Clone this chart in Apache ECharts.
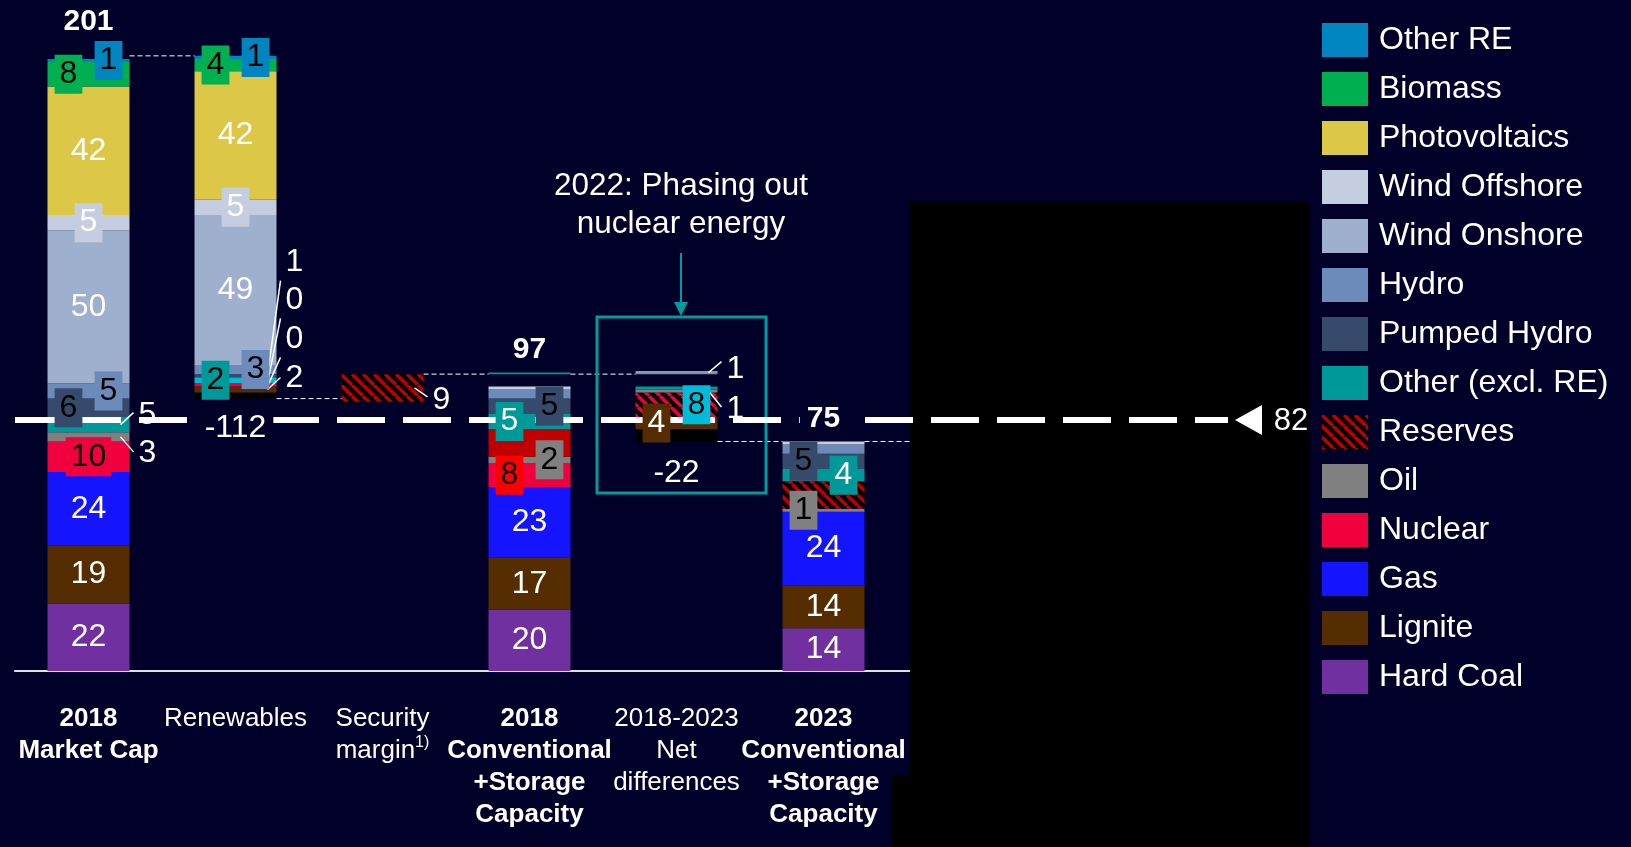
<!DOCTYPE html>
<html>
<head>
<meta charset="utf-8">
<script src="https://cdn.jsdelivr.net/npm/echarts@6/dist/echarts.min.js"></script>
<style>
  html, body { margin: 0; padding: 0; background: #000028; }
  #chart { width: 1631px; height: 847px; }
</style>
</head>
<body>
<div id="chart"></div>
<script>
// ---------- data (GW) ----------
const categories = [
  '2018\nMarket Cap',
  'Renewables',
  'Security\nmargin',
  '2018\nConventional\n+Storage\nCapacity',
  '2018-2023\nNet\ndifferences',
  '2023\nConventional\n+Storage\nCapacity',
  ''
];
const boldCategory = [true, false, false, true, false, true, false];
const footnotes = { 2: '1)' };

// headline figure of every column
const totals = [201, -112, 9, 97, -22, 75, 0];
const requiredCapacity = 82;

// stack parts, bottom to top
const retired     = [0, 2, 0, 0, 4, 0, 0];
const hardCoal    = [22, 0, 0, 20, 0, 14, 0];
const lignite     = [19, 2, 0, 17, 4, 14, 0];
const gas         = [24, 0, 0, 23, 0, 24, 0];
const nuclear     = [10, 1, 0, 8, 8, 0, 0];
const oil         = [3, 0, 0, 2, 1, 1, 0];
const reserves    = [0, 0, 9, 9, 0, 9, 0];
const otherConv   = [5, 2, 0, 5, 1, 4, 0];
const pumpedHydro = [6, 1, 0, 5, 0, 5, 0];
const hydro       = [5, 3, 0, 3, 0, 3, 0];
const windOn      = [50, 49, 0, 0, 0, 0, 0];
const windOff     = [5, 5, 0, 1, 0, 1, 0];
const pv          = [42, 42, 0, 0, 0, 0, 0];
const biomass     = [8, 4, 0, 0, 0, 0, 0];
const otherRE     = [1, 1, 0, 0, 0, 0, 0];
const gapAbove    = [0, 0, 0, 4, 4, 0, 0];
const topLine     = [0, 0, 0, 0.5, 1, 0, 0];

// floating columns start where the previous step ends
const floatBase = [0, totals[0] + totals[1], totals[3] - totals[2], 0, totals[3] + totals[4], 0, 0];

// ---------- styling ----------
const FONT = '"Liberation Sans", Arial, Helvetica, sans-serif';
const BG = '#000028';
const WHITE = '#FFFFFF';
const INK = '#000000';
const BAR_W = 82;
const VALUE_FS = 32;

function hatch(stripe) {
  const s = 11;
  const cv = document.createElement('canvas');
  cv.width = s; cv.height = s;
  const g = cv.getContext('2d');
  g.fillStyle = '#000000';
  g.fillRect(0, 0, s, s);
  g.strokeStyle = stripe;
  g.lineWidth = 3.4;
  for (const k of [-1, 0, 1]) {
    g.beginPath();
    g.moveTo(k * s, 0);
    g.lineTo(k * s + s, s);
    g.stroke();
  }
  return { image: cv, repeat: 'repeat' };
}

const stackDefs = [
  { key: 'base',        name: 'base',              data: floatBase,   color: 'transparent' },
  { key: 'retired',     name: 'retired',           data: retired,     color: '#000000' },
  { key: 'hardCoal',    name: 'Hard Coal',         data: hardCoal,    color: '#7030A0' },
  { key: 'lignite',     name: 'Lignite',           data: lignite,     color: '#552D00' },
  { key: 'gas',         name: 'Gas',               data: gas,         color: '#1414FF' },
  { key: 'nuclear',     name: 'Nuclear',           data: nuclear,     color: '#F0003C' },
  { key: 'oil',         name: 'Oil',               data: oil,         color: '#808080' },
  { key: 'reserves',    name: 'Reserves',          data: reserves,    color: hatch('#C00000') },
  { key: 'otherConv',   name: 'Other (excl. RE)',  data: otherConv,   color: '#009999' },
  { key: 'pumpedHydro', name: 'Pumped Hydro',      data: pumpedHydro, color: '#364B6B' },
  { key: 'hydro',       name: 'Hydro',             data: hydro,       color: '#6D8BBA' },
  { key: 'windOn',      name: 'Wind Onshore',      data: windOn,      color: '#9EB0CE' },
  { key: 'windOff',     name: 'Wind Offshore',     data: windOff,     color: '#C5CEE0' },
  { key: 'pv',          name: 'Photovoltaics',     data: pv,          color: '#DCC846' },
  { key: 'biomass',     name: 'Biomass',           data: biomass,     color: '#00B050' },
  { key: 'otherRE',     name: 'Other RE',          data: otherRE,     color: '#0085C0' },
  { key: 'gapAbove',    name: 'gapAbove',          data: gapAbove,    color: 'transparent' },
  { key: 'topLine',     name: 'topLine',           data: topLine,     color: '#009999' }
];

// single cells with their own fill
const cellStyle = {
  'otherConv,1': { color: '#00BCD8' },
  'reserves,3': { color: '#C00000' },
  'nuclear,4': { color: hatch('#F0003C') },
  'topLine,4': {
    color: { type: 'linear', x: 0, y: 0, x2: 0, y2: 1, colorStops: [
      { offset: 0, color: '#7E98C2' }, { offset: 0.5, color: '#7E98C2' },
      { offset: 0.5, color: '#8C8C8C' }, { offset: 1, color: '#8C8C8C' }] }
  }
};

const legendOrder = ['Other RE', 'Biomass', 'Photovoltaics', 'Wind Offshore', 'Wind Onshore', 'Hydro',
  'Pumped Hydro', 'Other (excl. RE)', 'Reserves', 'Oil', 'Nuclear', 'Gas', 'Lignite', 'Hard Coal'];

const series = stackDefs.map(d => ({
  type: 'bar',
  name: d.name,
  stack: 'capacity',
  barWidth: BAR_W,
  silent: true,
  animation: false,
  itemStyle: { color: d.color },
  emphasis: { disabled: true },
  data: d.data.map((v, i) => {
    const st = cellStyle[d.key + ',' + i];
    return st ? { value: v, itemStyle: st } : v;
  })
}));

const chart = echarts.init(document.getElementById('chart'));
chart.setOption({
  backgroundColor: BG,
  animation: false,
  grid: { left: 15, right: 587, top: 13, bottom: 176 },
  legend: {
    data: legendOrder,
    orient: 'vertical',
    left: 1322,
    top: 23,
    padding: 0,
    itemWidth: 46,
    itemHeight: 34,
    itemGap: 15,
    icon: 'rect',
    selectedMode: false,
    itemStyle: { borderWidth: 0 },
    textStyle: { color: WHITE, fontSize: 32, fontFamily: FONT, padding: [5, 0, 0, 6] }
  },
  xAxis: {
    type: 'category',
    data: categories,
    axisTick: { show: false },
    axisLine: { lineStyle: { color: '#E0E0E0', width: 2 } },
    axisLabel: {
      interval: 0,
      margin: 32,
      color: WHITE,
      formatter: (v, i) => {
        const st = boldCategory[i] ? 'b' : 'n';
        const parts = v.split('\n').map(l => '{' + st + '|' + l + '}');
        if (footnotes[i]) parts[parts.length - 1] += '{sup|' + footnotes[i] + '}';
        return parts.join('\n');
      },
      rich: {
        b: { fontSize: 26, fontWeight: 'bold', lineHeight: 32, color: WHITE, fontFamily: FONT },
        n: { fontSize: 26, lineHeight: 32, color: WHITE, fontFamily: FONT },
        sup: { fontSize: 16, lineHeight: 32, color: WHITE, verticalAlign: 'top', fontFamily: FONT }
      }
    }
  },
  yAxis: { type: 'value', min: 0, max: 215, show: false, splitLine: { show: false } },
  series: series
});

// ---------- value labels ----------
// b: boxed label (L / C / R inside the column), out: label right of the column (vertical shift), q: leader end shift
const labelPlan = [
  // 2018 Market Cap
  { s: 'hardCoal', c: 0 }, { s: 'lignite', c: 0 }, { s: 'gas', c: 0 },
  { s: 'nuclear', c: 0, b: 'C', ink: INK },
  { s: 'oil', c: 0, out: 16, q: -1 },
  { s: 'otherConv', c: 0, out: -9, q: -3 },
  { s: 'pumpedHydro', c: 0, b: 'L', ink: INK },
  { s: 'hydro', c: 0, b: 'R', ink: INK },
  { s: 'windOn', c: 0 },
  { s: 'windOff', c: 0, b: 'C', ink: WHITE },
  { s: 'pv', c: 0 },
  { s: 'biomass', c: 0, b: 'L', ink: INK },
  { s: 'otherRE', c: 0, b: 'R', ink: INK },
  // Renewables
  { s: 'lignite', c: 1, out: -11, q: -1 },
  { s: 'gas', c: 1, out: -47, q: 18 },
  { s: 'oil', c: 1, out: -83, q: 18 },
  { s: 'pumpedHydro', c: 1, out: -113, q: 18 },
  { s: 'otherConv', c: 1, b: 'L', ink: INK },
  { s: 'hydro', c: 1, b: 'R', ink: INK },
  { s: 'windOn', c: 1 },
  { s: 'windOff', c: 1, b: 'C', ink: WHITE },
  { s: 'pv', c: 1 },
  { s: 'biomass', c: 1, b: 'L', ink: INK },
  { s: 'otherRE', c: 1, b: 'R', ink: INK },
  // Security margin
  { s: 'reserves', c: 2, out: 12, q: -3 },
  // 2018 Conventional + Storage
  { s: 'hardCoal', c: 3 }, { s: 'lignite', c: 3 }, { s: 'gas', c: 3 },
  { s: 'nuclear', c: 3, b: 'L', ink: INK, box: '#FF0000' },
  { s: 'oil', c: 3, b: 'R', ink: INK },
  { s: 'otherConv', c: 3, b: 'L', ink: WHITE },
  { s: 'pumpedHydro', c: 3, b: 'R', ink: INK },
  // Net differences
  { s: 'lignite', c: 4, b: 'L', ink: WHITE },
  { s: 'nuclear', c: 4, b: 'R', ink: INK, box: '#00BCD8' },
  { s: 'oil', c: 4, out: 18, q: -2 },
  { s: 'topLine', c: 4, out: -3, q: -8 },
  // 2023 Conventional + Storage
  { s: 'hardCoal', c: 5 }, { s: 'lignite', c: 5 }, { s: 'gas', c: 5 },
  { s: 'oil', c: 5, b: 'L', ink: INK },
  { s: 'otherConv', c: 5, b: 'R', ink: WHITE },
  { s: 'pumpedHydro', c: 5, b: 'L', ink: INK }
];

// headline figures: above / below the column
const totalPlan = [
  { c: 0, at: totals[0], dy: -34, bold: true },
  { c: 1, at: floatBase[1], dy: 30, bg: true },
  { c: 3, at: totals[3], dy: -24, bold: true },
  { c: 4, at: floatBase[4], dy: 32 },
  { c: 5, at: totals[5], dy: -23, bold: true, bg: true }
];

function drawOverlay() {
  const toPx = (c, v) => chart.convertToPixel({ gridIndex: 0 }, [c, v]);
  const half = BAR_W / 2;

  // running stack bounds per part and column
  const bounds = {};
  for (let c = 0; c < categories.length; c++) {
    let acc = 0;
    stackDefs.forEach(d => {
      const v = d.data[c];
      bounds[d.key + ',' + c] = { from: acc, to: acc + v, v: v };
      acc += v;
    });
  }
  const colorOf = key => {
    const d = stackDefs.find(x => x.key === key);
    return typeof d.color === 'string' ? d.color : '#C00000';
  };

  const els = [];
  const text = (x, y, str, o) => els.push({
    type: 'text', x: x, y: y, z: 30, silent: true,
    style: Object.assign({
      text: str, fill: WHITE, fontSize: VALUE_FS, fontFamily: FONT,
      align: 'center', verticalAlign: 'middle'
    }, o || {})
  });
  const line = (x1, y1, x2, y2, o, z) => els.push({
    type: 'line', z: z || 25, silent: true,
    shape: { x1: x1, y1: y1, x2: x2, y2: y2 },
    style: Object.assign({ stroke: WHITE, lineWidth: 1.5 }, o || {})
  });

  // masking panel
  els.push({ type: 'rect', z: 20, silent: true, shape: { x: 910, y: 201, width: 400, height: 646 }, style: { fill: '#000000' } });
  els.push({ type: 'rect', z: 20, silent: true, shape: { x: 892, y: 775, width: 18, height: 72 }, style: { fill: '#000000' } });

  // thin step connectors between columns
  const steps = [[0, 1, totals[0]], [1, 2, floatBase[1]], [2, 3, totals[3]], [3, 4, totals[3]], [4, 5, floatBase[4]], [5, 6, totals[5]]];
  steps.forEach(([a, b, v]) => {
    const pa = toPx(a, v), pb = toPx(b, v);
    line(pa[0] + half, pa[1], Math.min(pb[0] - half, 910), pb[1], { lineWidth: 1, lineDash: [5, 3] }, 15);
  });

  // required capacity line
  const yReq = toPx(0, requiredCapacity)[1];
  line(15, yReq, 1228, yReq, { lineWidth: 6, lineDash: [48, 18], lineDashOffset: 8 }, 24);
  els.push({ type: 'polygon', z: 24, silent: true, shape: { points: [[1235, yReq], [1262, yReq - 15], [1262, yReq + 15]] }, style: { fill: WHITE } });
  text(1291, yReq + 1, String(requiredCapacity), { fontSize: 31 });

  // segment labels
  labelPlan.forEach(p => {
    const bd = bounds[p.s + ',' + p.c];
    const mid = (bd.from + bd.to) / 2;
    const [cx, cy] = toPx(p.c, mid);
    const str = String(Math.round(bd.v));
    if (p.out !== undefined) {
      const right = cx + half;
      const ly = cy + p.out;
      line(right - 9, cy, right + 4, ly + p.q, { lineWidth: 1.5 });
      text(right + 18, ly, str);
    } else if (p.b) {
      const dx = p.b === 'L' ? -20 : p.b === 'R' ? 20 : 0;
      text(cx + dx, cy, str, {
        fill: p.ink, backgroundColor: p.box || colorOf(p.s),
        padding: [4, 5, 3, 5], lineHeight: 32
      });
    } else {
      text(cx, cy, str);
    }
  });

  // headline figures
  totalPlan.forEach(t => {
    const [x, y] = toPx(t.c, t.at);
    const o = { fontWeight: t.bold ? 'bold' : 'normal', fontSize: t.bold ? 30 : VALUE_FS };
    if (t.bg) { o.backgroundColor = BG; o.padding = [2, 7, 2, 7]; }
    text(x, y + t.dy, String(totals[t.c]), o);
  });

  // nuclear phase-out callout
  els.push({ type: 'rect', z: 22, silent: true, shape: { x: 597, y: 317, width: 169, height: 176 }, style: { fill: 'none', stroke: '#009C9C', lineWidth: 3 } });
  line(681, 253, 681, 303, { stroke: '#009C9C', lineWidth: 2 }, 22);
  els.push({ type: 'polygon', z: 22, silent: true, shape: { points: [[674, 302], [688, 302], [681, 316]] }, style: { fill: '#009C9C' } });
  text(681, 186, '2022: Phasing out', { fontSize: 31.5 });
  text(681, 224, 'nuclear energy', { fontSize: 31.5 });

  chart.setOption({ graphic: { elements: els } });
}

drawOverlay();
</script>
</body>
</html>
